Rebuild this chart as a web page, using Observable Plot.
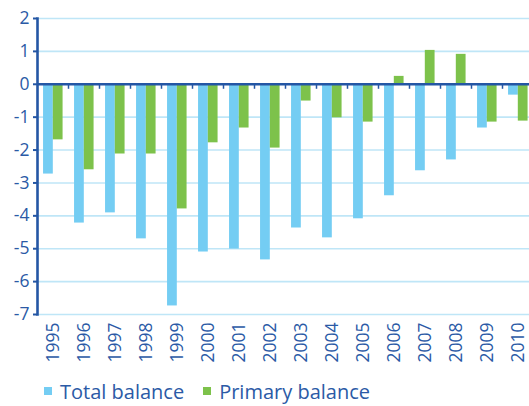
<!DOCTYPE html>
<html>
<head>
<meta charset="utf-8">
<script src="https://cdn.jsdelivr.net/npm/d3@7"></script>
<script src="https://cdn.jsdelivr.net/npm/@observablehq/plot@0.6"></script>
<style>
  body { margin: 0; background: #fff; }
  #wrap { width: 529px; overflow: hidden; }
  .legend { display: flex; align-items: center; height: 30px; padding-left: 44px;
    font: 500 20px "Open Sans", sans-serif; color: #2b5aa6; }
  .legend .item { display: flex; align-items: center; margin-right: 19px; }
  .legend .sw { width: 8px; height: 8px; margin-right: 8px; }
</style>
</head>
<body>
<div id="wrap"></div>
<script>
const years = ["1995","1996","1997","1998","1999","2000","2001","2002","2003","2004","2005","2006","2007","2008","2009","2010"];
const totalBalance = [-2.73, -4.22, -3.91, -4.70, -6.74, -5.10, -5.01, -5.34, -4.37, -4.67, -4.09, -3.39, -2.63, -2.30, -1.33, -0.33];
const primaryBalance = [-1.69, -2.60, -2.12, -2.12, -3.79, -1.78, -1.33, -1.94, -0.51, -1.02, -1.15, 0.24, 1.03, 0.91, -1.15, -1.12];
const yTicks = [-7, -6, -5, -4, -3, -2, -1, 0, 1, 2];
const seriesNames = ["Total balance", "Primary balance"];
const seriesColors = ["#74cdf3", "#7dc24b"];

const textColor = "#2b5aa6";
const axisColor = "#2456a4";
const gridColor = "#bfe6f7";

const W = 533, H = 376, mL = 37, mR = 0, mT = 18, mB = 62;
const bw = (W - mL - mR) / years.length;

const totalData = years.map((y, i) => ({year: y, value: totalBalance[i]}));
const primaryData = years.map((y, i) => ({year: y, value: primaryBalance[i]}));

const chart = Plot.plot({
  width: W, height: H,
  marginLeft: mL, marginRight: mR, marginTop: mT, marginBottom: mB,
  style: {maxWidth: "none", background: "#fff", color: textColor, overflow: "hidden"},
  x: {type: "band", domain: years, paddingInner: 0, paddingOuter: 0},
  y: {domain: [-7, 2]},
  marks: [
    Plot.ruleY(yTicks, {stroke: gridColor, strokeWidth: 1.6}),
    Plot.barY(totalData, {x: "year", y: "value", fill: seriesColors[0],
      insetLeft: bw * 0.195, insetRight: bw * (1 - 0.51)}),
    Plot.barY(primaryData, {x: "year", y: "value", fill: seriesColors[1],
      insetLeft: bw * 0.51, insetRight: bw * (1 - 0.825)}),
    Plot.ruleY([0], {stroke: axisColor, strokeWidth: 2.6}),
    Plot.ruleX(years.slice(1), {x: d => d, y1: 0, y2: 0, insetBottom: -5, dx: -bw / 2,
      stroke: axisColor, strokeWidth: 1.5}),
    Plot.frame({anchor: "left", stroke: axisColor, strokeWidth: 2.6}),
    Plot.axisY(yTicks, {tickSize: 4, tickPadding: 4, tickFormat: d => String(d),
      fontSize: 17.5, fontWeight: 500, fontFamily: "'Open Sans', sans-serif", fill: textColor,
      stroke: axisColor, strokeWidth: 2, label: null}),
    Plot.axisX({tickRotate: -90, tickSize: 0, tickPadding: 8, fontSize: 17.5,
      fontFamily: "'Liberation Sans Narrow', 'Open Sans', sans-serif",
      fill: textColor, label: null})
  ]
});
document.getElementById("wrap").appendChild(chart);

const legend = document.createElement("div");
legend.className = "legend";
seriesNames.forEach((name, i) => {
  const item = document.createElement("div");
  item.className = "item";
  const sw = document.createElement("span");
  sw.className = "sw";
  sw.style.background = seriesColors[i];
  const t = document.createElement("span");
  t.textContent = name;
  item.appendChild(sw);
  item.appendChild(t);
  legend.appendChild(item);
});
document.body.appendChild(legend);
</script>
</body>
</html>
